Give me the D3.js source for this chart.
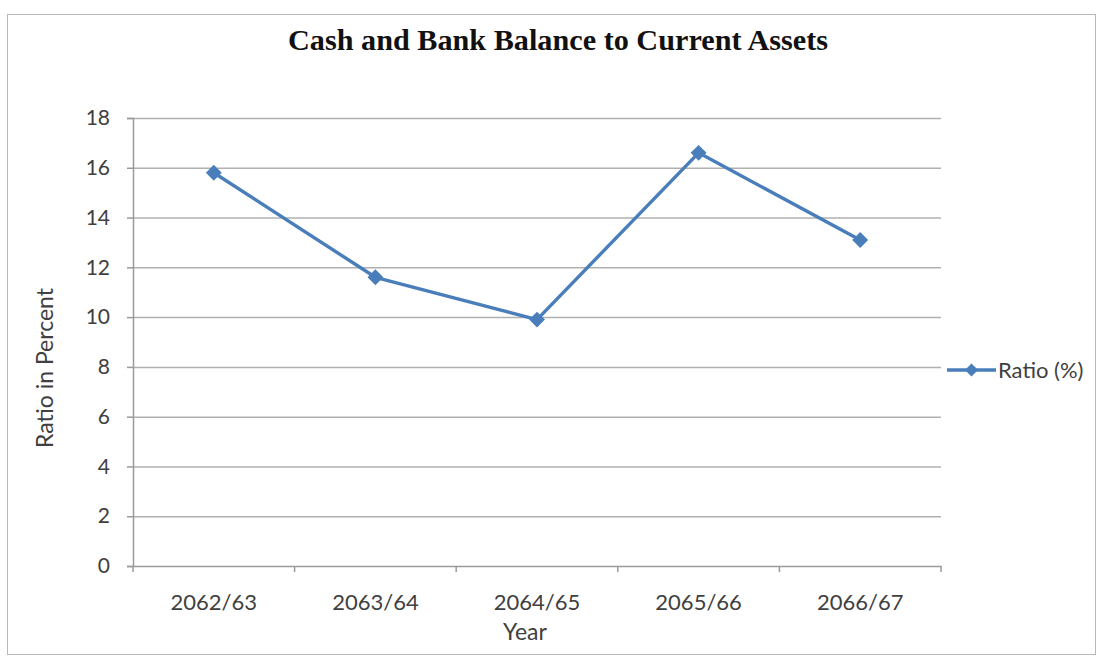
<!DOCTYPE html>
<html>
<head>
<meta charset="utf-8">
<script src="https://cdn.jsdelivr.net/npm/d3@7"></script>
<style>
  html, body { margin: 0; padding: 0; background: #fff; }
  svg { display: block; }
</style>
</head>
<body>
<svg id="chart" width="1100" height="660"></svg>
<script>
// Fiscal years and cash/bank to current-asset ratio (%)
const years = ["2062/63", "2063/64", "2064/65", "2065/66", "2066/67"];
const ratio = [15.8, 11.6, 9.9, 16.6, 13.1];
const yTicks = [0, 2, 4, 6, 8, 10, 12, 14, 16, 18];
const seriesName = "Ratio (%)";

const svg = d3.select("#chart");
const W = 1100, H = 660;
const margin = { left: 133, right: 159, top: 118, bottom: 94 };
const plotW = W - margin.left - margin.right;
const plotH = H - margin.top - margin.bottom;
const lineColor = "#4a7ebb";
const textColor = "#404040";
const labelFont = "Lato, 'Open Sans', sans-serif";

// outer chart frame
svg.append("rect")
  .attr("x", 7.5).attr("y", 14.5)
  .attr("width", W - 12).attr("height", H - 20)
  .attr("fill", "#fff")
  .attr("stroke", "#b8b8b8").attr("stroke-width", 1);

svg.append("text")
  .attr("x", 558).attr("y", 50)
  .attr("text-anchor", "middle")
  .attr("font-family", "'Liberation Serif', 'Times New Roman', serif")
  .attr("font-weight", "bold")
  .attr("font-size", 29)
  .attr("textLength", 540)
  .attr("lengthAdjust", "spacingAndGlyphs")
  .attr("fill", "#111")
  .text("Cash and Bank Balance to Current Assets");

const g = svg.append("g").attr("transform", `translate(${margin.left},${margin.top})`);

const x = d3.scaleBand().domain(years).range([0, plotW]);
const y = d3.scaleLinear().domain([0, 18]).range([plotH, 0]);

// horizontal gridlines
g.append("g")
  .selectAll("line")
  .data(yTicks.filter(d => d > 0))
  .join("line")
  .attr("x1", 0).attr("x2", plotW)
  .attr("y1", d => y(d) + 0.5).attr("y2", d => y(d) + 0.5)
  .attr("stroke", "#b0b0b0").attr("stroke-width", 1.5);

// y axis
const yAxis = g.append("g")
  .call(d3.axisLeft(y).tickValues(yTicks).tickSize(6).tickPadding(17));
yAxis.select(".domain").attr("stroke", "#9a9a9a").attr("stroke-width", 1.5);
yAxis.selectAll(".tick line").attr("stroke", "#9a9a9a").attr("stroke-width", 1.5);
yAxis.selectAll(".tick text")
  .attr("font-family", labelFont).attr("font-size", 21).attr("fill", textColor);

// x axis with tick marks on the band edges
const xAxis = g.append("g").attr("transform", `translate(0,${plotH})`)
  .call(d3.axisBottom(x).tickSize(0).tickPadding(28));
xAxis.select(".domain").attr("stroke", "#9a9a9a").attr("stroke-width", 1.5);
xAxis.selectAll(".tick text")
  .attr("font-family", labelFont).attr("font-size", 22).attr("fill", textColor);
xAxis.selectAll(".edge")
  .data(years.map(d => x(d)).concat([plotW]))
  .join("line")
  .attr("class", "edge")
  .attr("x1", d => d).attr("x2", d => d)
  .attr("y1", 0).attr("y2", 6)
  .attr("stroke", "#9a9a9a").attr("stroke-width", 1.5);

// axis titles
svg.append("text")
  .attr("x", 525).attr("y", 640)
  .attr("text-anchor", "middle")
  .attr("font-family", labelFont).attr("font-size", 23).attr("fill", textColor)
  .text("Year");
svg.append("text")
  .attr("transform", "translate(53,368) rotate(-90)")
  .attr("text-anchor", "middle")
  .attr("font-family", labelFont).attr("font-size", 23).attr("fill", textColor)
  .text("Ratio in Percent");

// series line and markers
const cx = d => x(d) + x.bandwidth() / 2;
const pts = years.map((d, i) => [cx(d), y(ratio[i])]);
g.append("path")
  .attr("d", d3.line()(pts))
  .attr("fill", "none")
  .attr("stroke", lineColor).attr("stroke-width", 3.4)
  .attr("stroke-linejoin", "round");
const diamond = d3.symbol().type(d3.symbolDiamond2).size(160);
g.selectAll(".pt")
  .data(pts)
  .join("path")
  .attr("class", "pt")
  .attr("transform", d => `translate(${d[0]},${d[1]})`)
  .attr("d", diamond)
  .attr("fill", lineColor);

// legend
const lg = svg.append("g").attr("transform", "translate(947,370)");
lg.append("line").attr("x1", 0).attr("x2", 49).attr("y1", 0).attr("y2", 0)
  .attr("stroke", lineColor).attr("stroke-width", 3.4);
lg.append("path").attr("transform", "translate(24.5,0)")
  .attr("d", d3.symbol().type(d3.symbolDiamond2).size(110)).attr("fill", lineColor);
lg.append("text").attr("x", 51).attr("y", 8)
  .attr("font-family", labelFont).attr("font-size", 22).attr("fill", textColor)
  .text(seriesName);
</script>
</body>
</html>
